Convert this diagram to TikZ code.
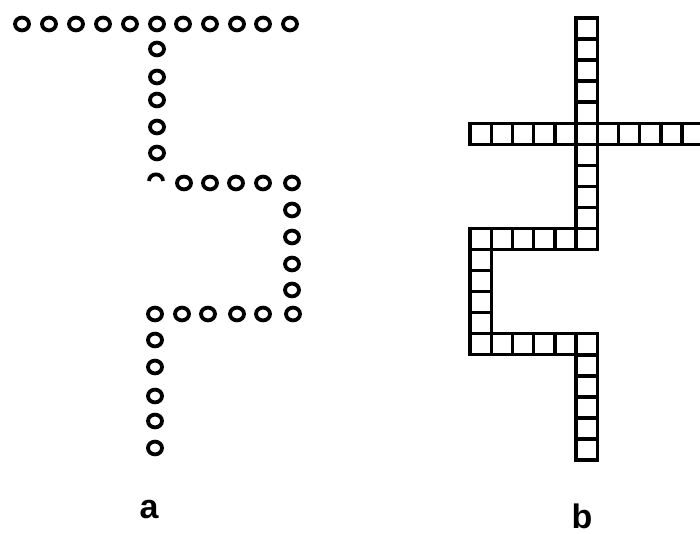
\documentclass[tikz,border=0pt]{standalone}
\usepackage{fontspec}
\setmainfont{Liberation Sans}
\usetikzlibrary{shapes.geometric}

\begin{document}
\begin{tikzpicture}[
    x=1pt, y=-1pt,
    % Ring of pattern a
    ring/.style={
        ellipse,
        draw,
        line width=3.8pt,
        minimum width=14pt,
        minimum height=12.8pt,
        inner sep=0pt
    },
    % Square cell of pattern b
    cellbox/.style={
        draw,
        line width=3.4pt,
        minimum width=21.2pt,
        minimum height=21pt,
        inner sep=0pt,
        outer sep=0pt
    },
    % Panel letters
    panel_label/.style={font=\fontsize{34}{40}\selectfont\bfseries, anchor=base, inner sep=0pt}
]

    \fill[white] (0,0) rectangle (700,534);
    \useasboundingbox (0,0) rectangle (700,534);

    % ==========================================
    % 1. PATTERN A (RINGS)
    % ==========================================

    % Top bar
    \foreach \px [count=\i] in {22,49,76,103,130,157,183,210,237,263,290}
        \node[ring] (top-\i) at (\px,24) {};

    % Stem down from the bar
    \foreach \py [count=\i] in {49,77,100,127,153}
        \node[ring] (stem-\i) at (157,\py) {};

    % Half ring at the corner
    \coordinate (half) at (156,181);
    \draw[line width=3.8pt] ([xshift=-7pt]half) arc[start angle=180, end angle=360, x radius=7, y radius=6.6];

    % Upper bend
    \foreach \px [count=\i] in {184,210,236,263,292}
        \node[ring] (rowb-\i) at (\px,183) {};
    \foreach \py [count=\i] in {210,237,264,290}
        \node[ring] (right-\i) at (292,\py) {};

    % Lower bend
    \foreach \px [count=\i] in {155,182,208,237,263,293}
        \node[ring] (rowc-\i) at (\px,314) {};
    \foreach \py [count=\i] in {340,367,396,421,448}
        \node[ring] (left-\i) at (155,\py) {};

    \node[panel_label] (lab-a) at (149,518) {a};

    % ==========================================
    % 2. PATTERN B (SQUARE CELLS)
    % ==========================================
    \begin{scope}[shift={(470,18)}, x=21.2pt, y=-21.05pt]
        % Vertical bar through the cross
        \foreach \r in {0,...,10}
            \node[cellbox] (cell-5-\r) at (5.5,\r+0.5) {};
        % Cross bar
        \foreach \c in {0,...,4,6,7,...,10}
            \node[cellbox] (cell-\c-5) at (\c+0.5,5.5) {};
        % Upper turn
        \foreach \c in {0,...,4}
            \node[cellbox] (cell-\c-10) at (\c+0.5,10.5) {};
        \foreach \r in {11,...,15}
            \node[cellbox] (cell-0-\r) at (0.5,\r+0.5) {};
        % Lower turn
        \foreach \c in {1,...,5}
            \node[cellbox] (cell-\c-15) at (\c+0.5,15.5) {};
        \foreach \r in {16,...,20}
            \node[cellbox] (cell-5-\r) at (5.5,\r+0.5) {};
    \end{scope}

    \node[panel_label] (lab-b) at (582,528) {b};

\end{tikzpicture}
\end{document}
